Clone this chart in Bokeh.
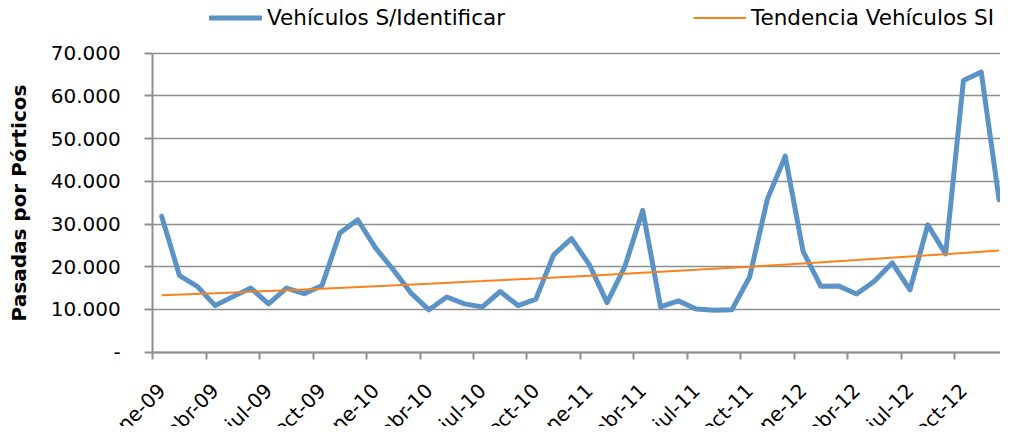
import math
from bokeh.plotting import figure
from bokeh.models import Legend, LegendItem, FixedTicker, Range1d, Label
from bokeh.embed import file_html
from bokeh.resources import INLINE

# ---- data (monthly, ene-09 .. dic-12) ----
vehiculos_si = [31800, 17900, 15400, 10900, 13000, 15000, 11300, 15000, 13700, 15600,
                27900, 31000, 24400, 19300, 13800, 9900, 12900, 11300, 10600, 14200,
                10900, 12400, 22800, 26600, 20500, 11600, 20100, 33200, 10600, 12000,
                10100, 9800, 9900, 17600, 35900, 45900, 23600, 15400, 15500, 13600,
                16600, 20900, 14600, 29800, 23000, 63600, 65600, 35700]
trend_month = [0, 3, 6, 9, 12, 15, 18, 21, 24, 27, 30, 33, 36, 39, 42, 45, 47]
trend_values = [13300, 13800, 14330, 14870, 15430, 16020, 16630, 17260, 17910,
                18590, 19290, 20020, 20780, 21570, 22390, 23240, 23820]
x_tick_labels = ["ene-09", "abr-09", "jul-09", "oct-09", "ene-10", "abr-10", "jul-10", "oct-10",
                 "ene-11", "abr-11", "jul-11", "oct-11", "ene-12", "abr-12", "jul-12", "oct-12"]
y_ticks = [0, 10000, 20000, 30000, 40000, 50000, 60000, 70000]
y_tick_labels = ["-", "10.000", "20.000", "30.000", "40.000", "50.000", "60.000", "70.000"]

series_name = "Vehículos S/Identificar"
trend_name = "Tendencia Vehículos SI"
y_title = "Pasadas por Pórticos"

FONT = "DejaVu Sans"
GRAY = "#8E8E8E"
BLUE = "#5B93C7"
ORANGE = "#F7821E"

X_END = 47.58
months_x = [i + 0.5 for i in range(len(vehiculos_si))]
trend_x = [m + 0.5 for m in trend_month]

# The frame covers the whole figure; both axes are pinned at the data origin.
p = figure(width=1000, height=426, x_range=Range1d(-8.547, X_END), y_range=Range1d(-17428, 82368),
           output_backend="svg", toolbar_location=None,
           min_border_left=0, min_border_right=0, min_border_top=0, min_border_bottom=0)
p.outline_line_color = None
p.background_fill_color = "white"
p.border_fill_color = "white"

blue = p.line(months_x, vehiculos_si, line_color=BLUE, line_width=5,
              line_join="round", line_cap="round")
orange = p.line(trend_x, trend_values, line_color=ORANGE, line_width=2)

# y axis
p.yaxis.fixed_location = 0
p.yaxis.bounds = (0, 70000)
p.yaxis.ticker = FixedTicker(ticks=y_ticks)
p.yaxis.major_label_overrides = dict(zip(y_ticks, y_tick_labels))
p.yaxis.major_tick_out = 8
p.yaxis.major_tick_in = 0
p.yaxis.minor_tick_out = 0
p.yaxis.minor_tick_in = 0
p.yaxis.axis_line_color = GRAY
p.yaxis.axis_line_width = 2
p.yaxis.major_tick_line_color = GRAY
p.yaxis.major_tick_line_width = 2
p.yaxis.major_label_text_font = FONT
p.yaxis.major_label_text_font_size = "20px"
p.yaxis.major_label_text_color = "black"
p.yaxis.major_label_standoff = 24

# x axis: labels at month centres, tick marks at quarter boundaries
major = [3 * k + 0.5 for k in range(len(x_tick_labels))]
minor = [3 * k for k in range(len(x_tick_labels))]
p.xaxis.fixed_location = 0
p.xaxis.bounds = (0, X_END)
p.xaxis.ticker = FixedTicker(ticks=major, minor_ticks=minor)
p.xaxis.major_label_overrides = dict(zip(major, x_tick_labels))
p.xaxis.major_tick_out = 0
p.xaxis.major_tick_in = 0
p.xaxis.minor_tick_out = 7
p.xaxis.minor_tick_in = 0
p.xaxis.minor_tick_line_color = GRAY
p.xaxis.minor_tick_line_width = 2
p.xaxis.axis_line_color = GRAY
p.xaxis.axis_line_width = 2
p.xaxis.major_label_orientation = math.pi / 4
p.xaxis.major_label_text_font = FONT
p.xaxis.major_label_text_font_size = "20px"
p.xaxis.major_label_text_color = "black"
p.xaxis.major_label_standoff = 28

p.xgrid.grid_line_color = None
p.ygrid.grid_line_color = GRAY
p.ygrid.grid_line_width = 1.5
p.ygrid.cross_bounds = (0, X_END)

# y axis title
p.add_layout(Label(x=18, y=223.5, x_units="screen", y_units="screen", text=y_title,
                   angle=math.pi / 2, text_align="center", text_baseline="middle",
                   text_font=FONT, text_font_style="bold", text_font_size="20px",
                   text_color="black"))


def make_legend(label, rend, loc):
    return Legend(items=[LegendItem(label=label, renderers=[rend])], location=loc,
                  orientation="horizontal", glyph_width=53, glyph_height=19,
                  label_height=19, label_standoff=5, padding=0, margin=0, spacing=0,
                  border_line_color=None, background_fill_alpha=0,
                  label_text_font=FONT, label_text_font_size="21.5px",
                  label_text_color="black")


p.add_layout(make_legend(series_name, blue, (209, 396.5)))
p.add_layout(make_legend(trend_name, orange, (693, 396.5)))

open("out.html", "w").write(file_html(p, INLINE))
